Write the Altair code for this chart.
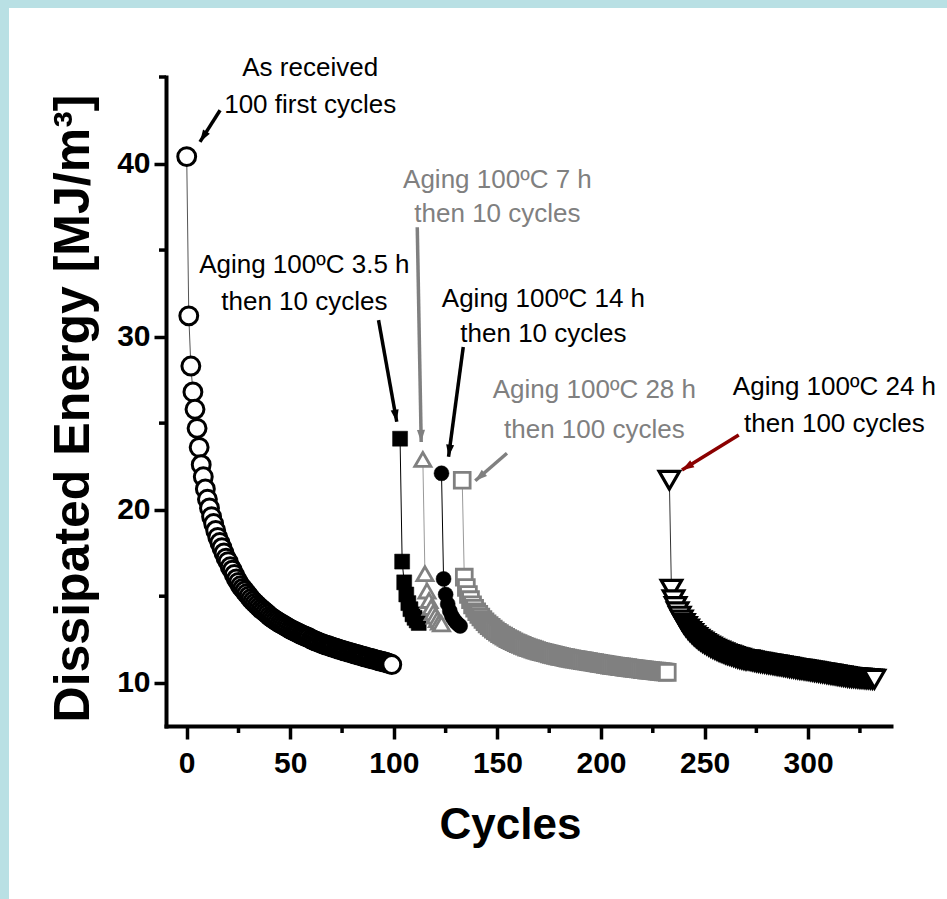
import math
import altair as alt
import pandas as pd

# ---------------- data ----------------
s1_x = list(range(0, 100))
s1_y = [40.4, 31.2, 28.3, 26.8, 25.8, 24.7, 23.6, 22.6, 21.9, 21.2,
        20.6, 20.1, 19.6, 19.2, 18.8, 18.4, 18.1, 17.8, 17.5, 17.2,
        17.0, 16.7, 16.5, 16.25, 16.0, 15.8, 15.6, 15.45, 15.3, 15.15,
        15.0, 14.85, 14.72, 14.6, 14.48, 14.37, 14.26, 14.16, 14.06, 13.96,
        13.85, 13.76, 13.68, 13.6, 13.52, 13.45, 13.38, 13.31, 13.24, 13.17,
        13.1, 13.04, 12.98, 12.92, 12.86, 12.8, 12.75, 12.7, 12.65, 12.6,
        12.52, 12.47, 12.42, 12.37, 12.32, 12.27, 12.23, 12.19, 12.15, 12.11,
        12.07, 12.03, 11.99, 11.95, 11.91, 11.88, 11.84, 11.81, 11.77, 11.74,
        11.7, 11.67, 11.63, 11.6, 11.56, 11.53, 11.5, 11.46, 11.43, 11.4,
        11.37, 11.33, 11.3, 11.27, 11.24, 11.21, 11.18, 11.14, 11.1, 11.05]

s2_x = list(range(103, 113))
s2_y = [24.1, 17.0, 15.8, 15.1, 14.6, 14.25, 13.95, 13.75, 13.6, 13.45]

s3_x = list(range(114, 124))
s3_y = [22.9, 16.3, 15.3, 14.75, 14.35, 14.05, 13.85, 13.65, 13.5, 13.4]

s4_x = list(range(123, 133))
s4_y = [22.1, 16.0, 15.1, 14.55, 14.15, 13.85, 13.65, 13.5, 13.38, 13.28]

s5_x = list(range(133, 233))
s5_y = [21.7, 16.1, 15.5, 15.1, 14.8, 14.5, 14.3, 14.1, 13.95, 13.8,
        13.65, 13.52, 13.4, 13.3, 13.2, 13.1, 13.0, 12.92, 12.84, 12.76,
        12.69, 12.62, 12.55, 12.49, 12.43, 12.37, 12.31, 12.26,
        12.21, 12.16, 12.11, 12.06, 12.02, 11.98, 11.94, 11.9, 11.86, 11.82,
        11.79, 11.76, 11.73, 11.7, 11.67, 11.64, 11.61, 11.58, 11.55, 11.52,
        11.5, 11.47, 11.45, 11.42, 11.4, 11.38, 11.36, 11.34, 11.32, 11.3,
        11.28, 11.26, 11.24, 11.22, 11.2, 11.18, 11.16, 11.14, 11.12, 11.1,
        11.08, 11.06, 11.04, 11.02, 11.0, 10.98, 10.97, 10.95, 10.93, 10.92,
        10.9, 10.88, 10.87, 10.85, 10.84, 10.82, 10.81, 10.79, 10.78, 10.76,
        10.75, 10.73, 10.72, 10.71, 10.69, 10.68, 10.67, 10.65, 10.64, 10.63,
        10.62, 10.6]

s6_x = list(range(233, 333))
s6_y = [21.7, 15.4, 14.8, 14.4, 14.1, 13.85, 13.62, 13.42, 13.25, 13.1,
        12.96, 12.84, 12.72, 12.62, 12.52, 12.43, 12.35, 12.27,
        12.2, 12.13, 12.06, 12.0, 11.94, 11.88, 11.83, 11.78, 11.73, 11.68,
        11.64, 11.6, 11.56, 11.52, 11.48, 11.44, 11.41, 11.38, 11.35, 11.32,
        11.33, 11.3, 11.27, 11.25, 11.22, 11.2, 11.18, 11.16, 11.14, 11.12,
        11.1, 11.08, 11.06, 11.04, 11.02, 11.0, 10.98, 10.96, 10.94, 10.92,
        10.89, 10.87, 10.85, 10.83, 10.81, 10.79, 10.78, 10.76, 10.74, 10.72,
        10.7, 10.68, 10.66, 10.64, 10.62, 10.6, 10.58, 10.56, 10.54, 10.52,
        10.5, 10.48, 10.46, 10.44, 10.42, 10.4, 10.38, 10.36, 10.34, 10.32,
        10.31, 10.3, 10.29, 10.28, 10.27, 10.26, 10.25, 10.24, 10.23, 10.22,
        10.21, 10.2]

# axis ticks
x_major = [0, 50, 100, 150, 200, 250, 300]
x_minor = [25, 75, 125, 175, 225, 275, 325]
y_major = [10, 20, 30, 40]
y_minor = [15, 25, 35, 45]

# annotation text lines (centre x, baseline y in data units)
ann_text = ["As received", "100 first cycles",
            "Aging 100ºC 3.5 h", "then 10 cycles",
            "Aging 100ºC 7 h", "then 10 cycles",
            "Aging 100ºC 14 h", "then 10 cycles",
            "Aging 100ºC 28 h", "then 100 cycles",
            "Aging 100ºC 24 h", "then 100 cycles"]
ann_x = [59.6, 59.6, 56.8, 56.8, 150.0, 150.0, 172.2, 172.2, 196.8, 196.8, 312.7, 312.7]
ann_y = [45.04, 42.92, 33.65, 31.53, 38.57, 36.6, 31.71, 29.69, 26.45, 24.14, 26.62, 24.5]
ann_color = ["#000000", "#000000", "#000000", "#000000", "#808080", "#808080",
             "#000000", "#000000", "#808080", "#808080", "#000000", "#000000"]

# arrows: start (x, y) -> tip (x2, y2)
arr_x = [16.1, 92.6, 111.3, 133.5, 154.6, 266.5]
arr_y = [43.08, 30.95, 36.32, 29.4, 23.26, 24.31]
arr_x2 = [6.4, 101.4, 113.2, 126.4, 139.3, 239.1]
arr_y2 = [41.25, 25.08, 23.91, 23.06, 21.67, 22.29]
arr_color = ["#000000", "#000000", "#808080", "#000000", "#808080", "#8b0000"]

# ---------------- layout ----------------
X_DOM = [-10, 340]
Y_DOM = [7.5, 45]
W, H = 725, 649
PAD_L, PAD_T = 166, 77
TOTAL_W, TOTAL_H = 947, 899

NUM_FONT = "'Liberation Sans', Arial, sans-serif"
TXT_FONT = "'Liberation Sans', Arial, sans-serif"

x_axis = alt.Axis(
    values=x_major, tickSize=13, zindex=2,
    tickWidth=3.5, tickColor="black", domainWidth=4, domainColor="black", domainCap="square",
    grid=False, labelFont=NUM_FONT, labelFontSize=30, labelFontWeight="bold",
    labelColor="black", labelPadding=9,
    title="Cycles", titleFont=NUM_FONT, titleFontSize=44, titleFontWeight="bold",
    titleColor="black", titleX=344, titleY=112, titleBaseline="alphabetic", titleAlign="center",
)
y_axis = alt.Axis(
    values=y_major, tickSize=12, zindex=2,
    tickWidth=3.5, tickColor="black", domainWidth=4, domainColor="black", domainCap="square",
    grid=False, labelFont=NUM_FONT, labelFontSize=30, labelFontWeight="bold",
    labelColor="black", labelPadding=4,
    title="Dissipated Energy [MJ/m³]", titleFont=NUM_FONT, titleFontSize=50,
    titleFontWeight="bold", titleColor="black", titleX=-78, titleY=331,
    titleBaseline="alphabetic", titleAlign="center",
)

XS = alt.Scale(domain=X_DOM, nice=False, zero=False)
YS = alt.Scale(domain=Y_DOM, nice=False, zero=False)


def xe(field="x"):
    return alt.X(f"{field}:Q", scale=XS, axis=x_axis)


def ye(field="y"):
    return alt.Y(f"{field}:Q", scale=YS, axis=y_axis)


def frame(xs, ys):
    return pd.DataFrame({"x": xs, "y": ys})


series = [
    # x, y, shape, filled, colour, size, stroke width, line colour
    (s1_x, s1_y, "circle", False, "#000000", 320, 3, "#555555"),
    (s2_x, s2_y, "square", True, "#000000", 225, 0, "#000000"),
    (s3_x, s3_y, "triangle-up", False, "#808080", 260, 2.8, "#999999"),
    (s4_x, s4_y, "circle", True, "#000000", 225, 0, "#000000"),
    (s5_x, s5_y, "square", False, "#808080", 250, 2.8, "#999999"),
    (s6_x, s6_y, "triangle-down", False, "#000000", 420, 3.2, "#333333"),
]

layers = []

# page frame: blue strip on the left and top, white elsewhere
bg = alt.Chart(pd.DataFrame({"k": [0]})).mark_rect(color="white").encode(
    x=alt.value(9 - PAD_L), x2=alt.value(TOTAL_W - PAD_L),
    y=alt.value(8 - PAD_T), y2=alt.value(TOTAL_H - PAD_T),
)
layers.append(bg)

# minor ticks
layers.append(alt.Chart(pd.DataFrame({"x": x_minor})).mark_rule(color="black", strokeWidth=3.5).encode(
    x=xe(), y=alt.value(H), y2=alt.value(H + 7)))
layers.append(alt.Chart(pd.DataFrame({"y": y_minor})).mark_rule(color="black", strokeWidth=3.5).encode(
    y=ye(), x=alt.value(0), x2=alt.value(-7)))

for xs, ys, shape, filled, col, size, sw, lc in series:
    layers.append(alt.Chart(frame(xs, ys)).mark_line(color=lc, strokeWidth=1).encode(x=xe(), y=ye()))

for xs, ys, shape, filled, col, size, sw, lc in series:
    if filled:
        mk = alt.Chart(frame(xs, ys)).mark_point(shape=shape, filled=True, fill=col, stroke=col,
                                                 strokeWidth=0.5, size=size, opacity=1)
    else:
        mk = alt.Chart(frame(xs, ys)).mark_point(shape=shape, filled=True, fill="white", stroke=col,
                                                 strokeWidth=sw, size=size, opacity=1)
    layers.append(mk.encode(x=xe(), y=ye()))

# arrows
kx = W / (X_DOM[1] - X_DOM[0])
ky = H / (Y_DOM[1] - Y_DOM[0])
angles = []
for a, b, c, d in zip(arr_x, arr_y, arr_x2, arr_y2):
    dx = (c - a) * kx
    dy = -(d - b) * ky
    angles.append(math.degrees(math.atan2(dx, -dy)) % 360)
arr_df = pd.DataFrame({"x": arr_x, "y": arr_y, "x2": arr_x2, "y2": arr_y2,
                       "c": arr_color, "ang": angles})
layers.append(alt.Chart(arr_df).mark_rule(strokeWidth=3.5).encode(
    x=xe(), y=ye(), x2="x2:Q", y2="y2:Q", color=alt.Color("c:N", scale=None)))
layers.append(alt.Chart(arr_df).mark_point(shape="M0,0L-0.45,1.35L0.45,1.35Z", filled=True,
                                           size=320, opacity=1, strokeWidth=0).encode(
    x=xe("x2"), y=ye("y2"), color=alt.Color("c:N", scale=None),
    angle=alt.Angle("ang:Q", scale=None)))

# annotation texts
ann_df = pd.DataFrame({"x": ann_x, "y": ann_y, "t": ann_text, "c": ann_color})
layers.append(alt.Chart(ann_df).mark_text(font=TXT_FONT, fontSize=26, align="center",
                                          baseline="alphabetic").encode(
    x=xe(), y=ye(), text="t:N", color=alt.Color("c:N", scale=None)))

chart = alt.layer(*layers).properties(
    width=W, height=H,
    padding={"left": PAD_L, "top": PAD_T, "right": TOTAL_W - PAD_L - W, "bottom": TOTAL_H - PAD_T - H},
    autosize=alt.AutoSizeParams(type="none"),
    background="#b9e0e4",
).configure_view(stroke=None)

chart.save("out.html", embed_options={"renderer": "svg", "actions": False})
